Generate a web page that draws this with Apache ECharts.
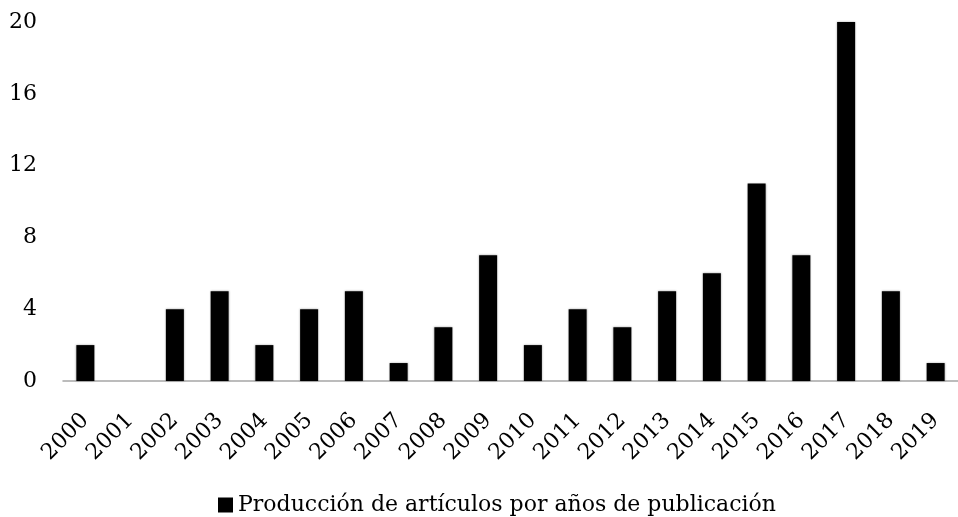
<!DOCTYPE html>
<html>
<head>
<meta charset="utf-8">
<script src="https://cdn.jsdelivr.net/npm/echarts@6/dist/echarts.min.js"></script>
<style>
  html, body { margin: 0; padding: 0; background: #fff; }
  #chart { width: 958px; height: 517px; }
</style>
</head>
<body>
<div id="chart"></div>
<script>
  var years = ['2000', '2001', '2002', '2003', '2004', '2005', '2006', '2007', '2008', '2009',
               '2010', '2011', '2012', '2013', '2014', '2015', '2016', '2017', '2018', '2019'];
  var articulos = [2, 0, 4, 5, 2, 4, 5, 1, 3, 7, 2, 4, 3, 5, 6, 11, 7, 20, 5, 1];
  var serieNombre = 'Producción de artículos por años de publicación';

  var fuente = 'DejaVu Serif';
  var myChart = echarts.init(document.getElementById('chart'));

  option = {
    backgroundColor: '#ffffff',
    animation: false,
    textStyle: { fontFamily: fuente },
    grid: {
      left: 63,
      top: 22,
      width: 903, // el gráfico original queda recortado por la derecha
      height: 359
    },
    legend: {
      data: [serieNombre],
      left: 213,
      top: 489,
      icon: 'rect',
      itemWidth: 15,
      itemHeight: 15,
      itemGap: 6,
      textStyle: { fontFamily: fuente, fontSize: 22, color: '#000' }
    },
    xAxis: {
      type: 'category',
      data: years,
      axisLine: { lineStyle: { color: '#a6a6a6', width: 1.5 } },
      axisTick: { show: false },
      axisLabel: {
        rotate: 45,
        interval: 0,
        margin: 36,
        fontFamily: fuente,
        fontSize: 22,
        color: '#000'
      }
    },
    yAxis: {
      type: 'value',
      min: 0,
      max: 20,
      interval: 4,
      splitLine: { show: false },
      axisLine: { show: false },
      axisTick: { show: false },
      axisLabel: {
        margin: 26,
        fontFamily: fuente,
        fontSize: 22,
        color: '#000'
      }
    },
    series: [{
      name: serieNombre,
      type: 'bar',
      data: articulos,
      barWidth: 18,
      itemStyle: {
        color: '#000',
        shadowColor: 'rgba(0,0,0,0.35)',
        shadowBlur: 2
      }
    }]
  };

  myChart.setOption(option);
</script>
</body>
</html>
